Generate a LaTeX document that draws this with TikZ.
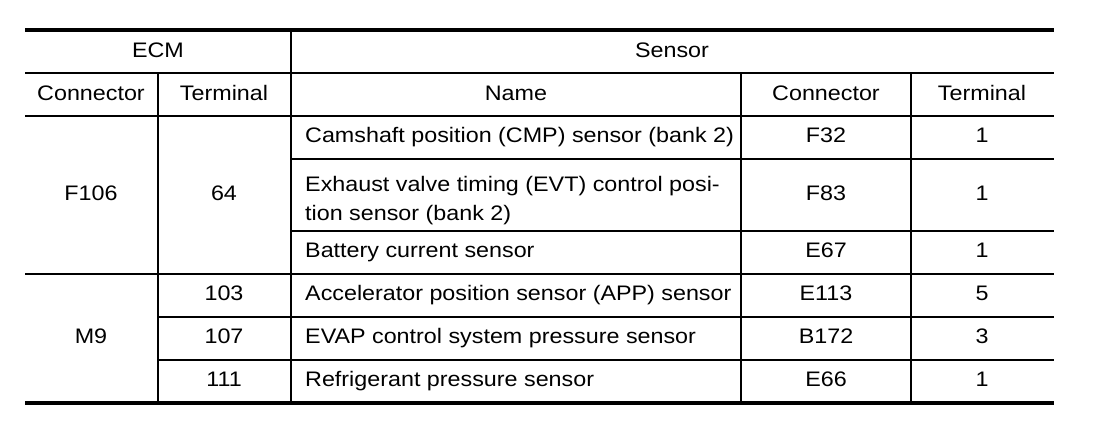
\documentclass[tikz,border=0pt]{standalone}
\usepackage{fontspec}
\setmainfont{Liberation Sans}[FakeStretch=1.11]
\begin{document}
\begin{tikzpicture}[x=1pt, y=-1pt, thin rule/.style={line width=1.4pt}, thick rule/.style={line width=3.4pt}, cell/.style={anchor=base, inner sep=0pt}, name cell/.style={anchor=base west, align=left, inner sep=0pt}]
        \tikzstyle{every node}=[font=\fontsize{21}{28.5}\selectfont]
          \useasboundingbox (0,0) rectangle (1120,424);

          % rules
          \draw[thick rule] (25,30) -- (1054,30);
          \draw[thick rule] (25,403) -- (1054,403);
          \draw[thin rule] (25,73) -- (1054,73);
          \draw[thin rule] (25,116) -- (1054,116);
          \draw[thin rule] (291,159) -- (1054,159);
          \draw[thin rule] (291,231) -- (1054,231);
          \draw[thin rule] (25,274) -- (1054,274);
          \draw[thin rule] (158,317) -- (1054,317);
          \draw[thin rule] (158,360) -- (1054,360);
          \draw[thin rule] (158,73) -- (158,403);
          \draw[thin rule] (291,30) -- (291,403);
          \draw[thin rule] (741,73) -- (741,403);
          \draw[thin rule] (911,73) -- (911,403);

          % header
          \node[cell] (ecm) at (158,57) {ECM};
          \node[cell] (sensor) at (672,57) {Sensor};
          \node[cell] (ecmconn) at (91,100) {Connector};
          \node[cell] (ecmterm) at (224,100) {Terminal};
          \node[cell] (sname) at (516,100) {Name};
          \node[cell] (sconn) at (826,100) {Connector};
          \node[cell] (sterm) at (982,100) {Terminal};

          % ECM side
          \node[cell] (f106) at (91,200) {F106};
          \node[cell] (t64) at (224,200) {64};
          \node[cell] (m9) at (91,343) {M9};
          \node[cell] (t103) at (224,300) {103};
          \node[cell] (t107) at (224,343) {107};
          \node[cell] (t111) at (224,386) {111};

          % sensor side
          \node[name cell] (cmp) at (305,142) {Camshaft position (CMP) sensor (bank 2)};
          \node[name cell] (evt) at (305,220) {Exhaust valve timing (EVT) control posi-\\tion sensor (bank 2)};
          \node[name cell] (bat) at (305,257) {Battery current sensor};
          \node[name cell] (app) at (305,300) {Accelerator position sensor (APP) sensor};
          \node[name cell] (evap) at (305,343) {EVAP control system pressure sensor};
          \node[name cell] (ref) at (305,386) {Refrigerant pressure sensor};

          \node[cell] (f32) at (826,142) {F32};
          \node[cell] (f83) at (826,200) {F83};
          \node[cell] (e67) at (826,257) {E67};
          \node[cell] (e113) at (826,300) {E113};
          \node[cell] (b172) at (826,343) {B172};
          \node[cell] (e66) at (826,386) {E66};

          \node[cell] (p32) at (982,142) {1};
          \node[cell] (p83) at (982,200) {1};
          \node[cell] (p67) at (982,257) {1};
          \node[cell] (p113) at (982,300) {5};
          \node[cell] (p172) at (982,343) {3};
          \node[cell] (p66) at (982,386) {1};

        \end{tikzpicture}
\end{document}
